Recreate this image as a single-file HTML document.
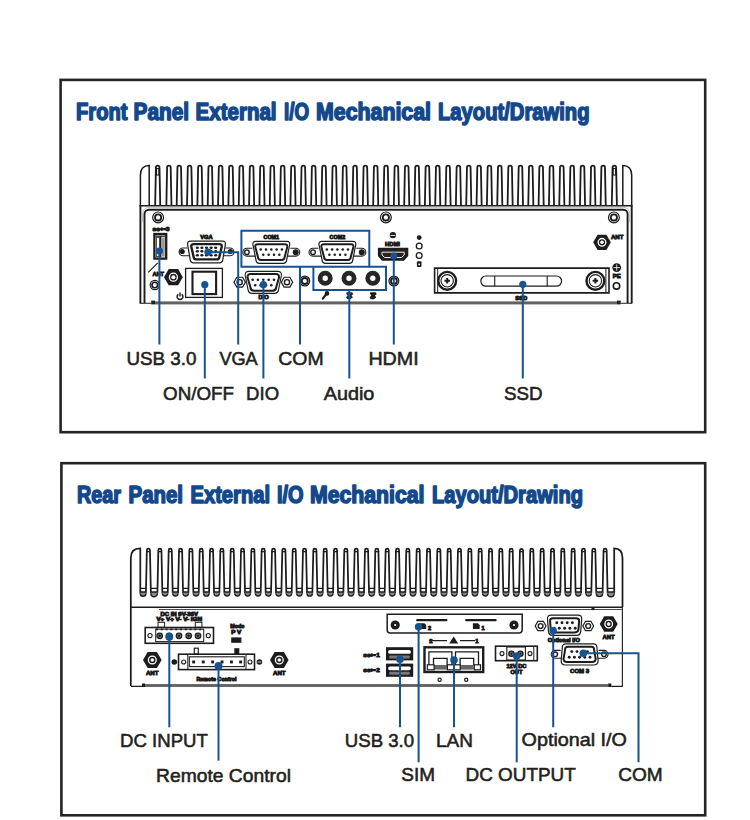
<!DOCTYPE html>
<html><head><meta charset="utf-8"><style>
html,body{margin:0;padding:0;background:#fff;width:750px;height:820px;overflow:hidden}
svg{display:block}
</style></head><body>
<svg width="750" height="820" viewBox="0 0 750 820">
<rect x="60.6" y="79.9" width="644.6" height="352.3" fill="none" stroke="#242424" stroke-width="2.6"/>
<rect x="61.4" y="463.2" width="643.8" height="352.1" fill="none" stroke="#242424" stroke-width="2.6"/>
<text x="76.00" y="120.1" font-family="Liberation Sans, sans-serif" font-weight="bold" font-size="23.4" fill="#13498c" stroke="#13498c" stroke-width="1.55" stroke-linejoin="round" textLength="51.52" lengthAdjust="spacingAndGlyphs">Front</text>
<text x="133.50" y="120.1" font-family="Liberation Sans, sans-serif" font-weight="bold" font-size="23.4" fill="#13498c" stroke="#13498c" stroke-width="1.55" stroke-linejoin="round" textLength="55.54" lengthAdjust="spacingAndGlyphs">Panel</text>
<text x="195.50" y="120.1" font-family="Liberation Sans, sans-serif" font-weight="bold" font-size="23.4" fill="#13498c" stroke="#13498c" stroke-width="1.55" stroke-linejoin="round" textLength="81.08" lengthAdjust="spacingAndGlyphs">External</text>
<text x="284.00" y="120.1" font-family="Liberation Sans, sans-serif" font-weight="bold" font-size="23.4" fill="#13498c" stroke="#13498c" stroke-width="1.55" stroke-linejoin="round" textLength="25.06" lengthAdjust="spacingAndGlyphs">I/O</text>
<text x="316.00" y="120.1" font-family="Liberation Sans, sans-serif" font-weight="bold" font-size="23.4" fill="#13498c" stroke="#13498c" stroke-width="1.55" stroke-linejoin="round" textLength="115.03" lengthAdjust="spacingAndGlyphs">Mechanical</text>
<text x="438.00" y="120.1" font-family="Liberation Sans, sans-serif" font-weight="bold" font-size="23.4" fill="#13498c" stroke="#13498c" stroke-width="1.55" stroke-linejoin="round" textLength="151.51" lengthAdjust="spacingAndGlyphs">Layout/Drawing</text>
<text x="77.00" y="503.2" font-family="Liberation Sans, sans-serif" font-weight="bold" font-size="23.0" fill="#13498c" stroke="#13498c" stroke-width="1.55" stroke-linejoin="round" textLength="44.01" lengthAdjust="spacingAndGlyphs">Rear</text>
<text x="128.50" y="503.2" font-family="Liberation Sans, sans-serif" font-weight="bold" font-size="23.0" fill="#13498c" stroke="#13498c" stroke-width="1.55" stroke-linejoin="round" textLength="54.54" lengthAdjust="spacingAndGlyphs">Panel</text>
<text x="190.50" y="503.2" font-family="Liberation Sans, sans-serif" font-weight="bold" font-size="23.0" fill="#13498c" stroke="#13498c" stroke-width="1.55" stroke-linejoin="round" textLength="79.51" lengthAdjust="spacingAndGlyphs">External</text>
<text x="277.00" y="503.2" font-family="Liberation Sans, sans-serif" font-weight="bold" font-size="23.0" fill="#13498c" stroke="#13498c" stroke-width="1.55" stroke-linejoin="round" textLength="26.59" lengthAdjust="spacingAndGlyphs">I/O</text>
<text x="310.00" y="503.2" font-family="Liberation Sans, sans-serif" font-weight="bold" font-size="23.0" fill="#13498c" stroke="#13498c" stroke-width="1.55" stroke-linejoin="round" textLength="114.52" lengthAdjust="spacingAndGlyphs">Mechanical</text>
<text x="432.00" y="503.2" font-family="Liberation Sans, sans-serif" font-weight="bold" font-size="23.0" fill="#13498c" stroke="#13498c" stroke-width="1.55" stroke-linejoin="round" textLength="151.01" lengthAdjust="spacingAndGlyphs">Layout/Drawing</text>
<text x="126.40" y="364.6" font-family="Liberation Sans, sans-serif" font-size="18.4" fill="#231f20" stroke="#231f20" stroke-width="0.55" textLength="70.12" lengthAdjust="spacingAndGlyphs">USB 3.0</text>
<text x="219.40" y="364.6" font-family="Liberation Sans, sans-serif" font-size="18.4" fill="#231f20" stroke="#231f20" stroke-width="0.55" textLength="38.27" lengthAdjust="spacingAndGlyphs">VGA</text>
<text x="278.30" y="364.6" font-family="Liberation Sans, sans-serif" font-size="18.4" fill="#231f20" stroke="#231f20" stroke-width="0.55" textLength="45.31" lengthAdjust="spacingAndGlyphs">COM</text>
<text x="368.40" y="364.7" font-family="Liberation Sans, sans-serif" font-size="18.4" fill="#231f20" stroke="#231f20" stroke-width="0.55" textLength="50.26" lengthAdjust="spacingAndGlyphs">HDMI</text>
<text x="163.10" y="399.5" font-family="Liberation Sans, sans-serif" font-size="18.4" fill="#231f20" stroke="#231f20" stroke-width="0.55" textLength="70.94" lengthAdjust="spacingAndGlyphs">ON/OFF</text>
<text x="246.10" y="399.5" font-family="Liberation Sans, sans-serif" font-size="18.4" fill="#231f20" stroke="#231f20" stroke-width="0.55" textLength="32.96" lengthAdjust="spacingAndGlyphs">DIO</text>
<text x="323.70" y="399.7" font-family="Liberation Sans, sans-serif" font-size="18.4" fill="#231f20" stroke="#231f20" stroke-width="0.55" textLength="50.71" lengthAdjust="spacingAndGlyphs">Audio</text>
<text x="504.00" y="399.6" font-family="Liberation Sans, sans-serif" font-size="18.4" fill="#231f20" stroke="#231f20" stroke-width="0.55" textLength="38.63" lengthAdjust="spacingAndGlyphs">SSD</text>
<text x="120.10" y="747.2" font-family="Liberation Sans, sans-serif" font-size="18.4" fill="#231f20" stroke="#231f20" stroke-width="0.55" textLength="87.80" lengthAdjust="spacingAndGlyphs">DC INPUT</text>
<text x="156.00" y="782.4" font-family="Liberation Sans, sans-serif" font-size="18.4" fill="#231f20" stroke="#231f20" stroke-width="0.55" textLength="135.01" lengthAdjust="spacingAndGlyphs">Remote Control</text>
<text x="344.80" y="746.8" font-family="Liberation Sans, sans-serif" font-size="18.4" fill="#231f20" stroke="#231f20" stroke-width="0.55" textLength="69.34" lengthAdjust="spacingAndGlyphs">USB 3.0</text>
<text x="436.00" y="746.8" font-family="Liberation Sans, sans-serif" font-size="18.4" fill="#231f20" stroke="#231f20" stroke-width="0.55" textLength="36.92" lengthAdjust="spacingAndGlyphs">LAN</text>
<text x="521.60" y="746.2" font-family="Liberation Sans, sans-serif" font-size="18.4" fill="#231f20" stroke="#231f20" stroke-width="0.55" textLength="105.29" lengthAdjust="spacingAndGlyphs">Optional I/O</text>
<text x="401.30" y="781" font-family="Liberation Sans, sans-serif" font-size="18.4" fill="#231f20" stroke="#231f20" stroke-width="0.55" textLength="33.74" lengthAdjust="spacingAndGlyphs">SIM</text>
<text x="465.60" y="781" font-family="Liberation Sans, sans-serif" font-size="18.4" fill="#231f20" stroke="#231f20" stroke-width="0.55" textLength="110.12" lengthAdjust="spacingAndGlyphs">DC OUTPUT</text>
<text x="618.20" y="781" font-family="Liberation Sans, sans-serif" font-size="18.4" fill="#231f20" stroke="#231f20" stroke-width="0.55" textLength="44.48" lengthAdjust="spacingAndGlyphs">COM</text>
<path d="M155.15,205.5L155.90,167.4A1.8,1.8 0 0 1 159.50,167.4L160.25,205.5M166.35,205.5L167.10,167.4A1.8,1.8 0 0 1 170.70,167.4L171.45,205.5M176.69,205.5L177.44,167.4A1.8,1.8 0 0 1 181.04,167.4L181.79,205.5M187.03,205.5L187.78,167.4A1.8,1.8 0 0 1 191.38,167.4L192.13,205.5M197.37,205.5L198.12,167.4A1.8,1.8 0 0 1 201.72,167.4L202.47,205.5M207.71,205.5L208.46,167.4A1.8,1.8 0 0 1 212.06,167.4L212.81,205.5M218.05,205.5L218.80,167.4A1.8,1.8 0 0 1 222.40,167.4L223.15,205.5M228.39,205.5L229.14,167.4A1.8,1.8 0 0 1 232.74,167.4L233.49,205.5M238.73,205.5L239.48,167.4A1.8,1.8 0 0 1 243.08,167.4L243.83,205.5M249.07,205.5L249.82,167.4A1.8,1.8 0 0 1 253.42,167.4L254.17,205.5M259.41,205.5L260.16,167.4A1.8,1.8 0 0 1 263.76,167.4L264.51,205.5M269.75,205.5L270.50,167.4A1.8,1.8 0 0 1 274.10,167.4L274.85,205.5M280.09,205.5L280.84,167.4A1.8,1.8 0 0 1 284.44,167.4L285.19,205.5M290.43,205.5L291.18,167.4A1.8,1.8 0 0 1 294.78,167.4L295.53,205.5M300.77,205.5L301.52,167.4A1.8,1.8 0 0 1 305.12,167.4L305.87,205.5M311.11,205.5L311.86,167.4A1.8,1.8 0 0 1 315.46,167.4L316.21,205.5M321.45,205.5L322.20,167.4A1.8,1.8 0 0 1 325.80,167.4L326.55,205.5M331.79,205.5L332.54,167.4A1.8,1.8 0 0 1 336.14,167.4L336.89,205.5M342.13,205.5L342.88,167.4A1.8,1.8 0 0 1 346.48,167.4L347.23,205.5M352.47,205.5L353.22,167.4A1.8,1.8 0 0 1 356.82,167.4L357.57,205.5M362.81,205.5L363.56,167.4A1.8,1.8 0 0 1 367.16,167.4L367.91,205.5M373.15,205.5L373.90,167.4A1.8,1.8 0 0 1 377.50,167.4L378.25,205.5M383.49,205.5L384.24,167.4A1.8,1.8 0 0 1 387.84,167.4L388.59,205.5M393.83,205.5L394.58,167.4A1.8,1.8 0 0 1 398.18,167.4L398.93,205.5M404.17,205.5L404.92,167.4A1.8,1.8 0 0 1 408.52,167.4L409.27,205.5M414.51,205.5L415.26,167.4A1.8,1.8 0 0 1 418.86,167.4L419.61,205.5M424.85,205.5L425.60,167.4A1.8,1.8 0 0 1 429.20,167.4L429.95,205.5M435.19,205.5L435.94,167.4A1.8,1.8 0 0 1 439.54,167.4L440.29,205.5M445.53,205.5L446.28,167.4A1.8,1.8 0 0 1 449.88,167.4L450.63,205.5M455.87,205.5L456.62,167.4A1.8,1.8 0 0 1 460.22,167.4L460.97,205.5M466.21,205.5L466.96,167.4A1.8,1.8 0 0 1 470.56,167.4L471.31,205.5M476.55,205.5L477.30,167.4A1.8,1.8 0 0 1 480.90,167.4L481.65,205.5M486.89,205.5L487.64,167.4A1.8,1.8 0 0 1 491.24,167.4L491.99,205.5M497.23,205.5L497.98,167.4A1.8,1.8 0 0 1 501.58,167.4L502.33,205.5M507.57,205.5L508.32,167.4A1.8,1.8 0 0 1 511.92,167.4L512.67,205.5M517.91,205.5L518.66,167.4A1.8,1.8 0 0 1 522.26,167.4L523.01,205.5M528.25,205.5L529.00,167.4A1.8,1.8 0 0 1 532.60,167.4L533.35,205.5M538.59,205.5L539.34,167.4A1.8,1.8 0 0 1 542.94,167.4L543.69,205.5M548.93,205.5L549.68,167.4A1.8,1.8 0 0 1 553.28,167.4L554.03,205.5M559.27,205.5L560.02,167.4A1.8,1.8 0 0 1 563.62,167.4L564.37,205.5M569.61,205.5L570.36,167.4A1.8,1.8 0 0 1 573.96,167.4L574.71,205.5M579.95,205.5L580.70,167.4A1.8,1.8 0 0 1 584.30,167.4L585.05,205.5M590.29,205.5L591.04,167.4A1.8,1.8 0 0 1 594.64,167.4L595.39,205.5M600.63,205.5L601.38,167.4A1.8,1.8 0 0 1 604.98,167.4L605.73,205.5M611.80,205.5L612.55,167.4A1.8,1.8 0 0 1 616.15,167.4L616.90,205.5" fill="none" stroke="#1c1c1c" stroke-width="1.8"/>
<rect x="156.50" y="168.6" width="2.4" height="6.4" fill="none" stroke="#1c1c1c" stroke-width="1.1"/>
<rect x="613.15" y="168.6" width="2.4" height="6.4" fill="none" stroke="#1c1c1c" stroke-width="1.1"/>
<path d="M140.4,205.5V175.5Q140.4,165.6 149.2,165.6V205.5" fill="none" stroke="#1c1c1c" stroke-width="1.5"/>
<path d="M631.7,205.5V175.5Q631.7,165.6 622.8,165.6V205.5" fill="none" stroke="#1c1c1c" stroke-width="1.5"/>
<path d="M140.4,205V303.3M631.7,205V303.3" stroke="#1c1c1c" stroke-width="1.9"/>
<path d="M139.5,205.7H632.3" stroke="#1c1c1c" stroke-width="1.5"/>
<path d="M142.7,222V213.4A6,6 0 0 1 148.7,207.4H623.7A6,6 0 0 1 629.7,213.4V222" fill="none" stroke="#b8b8b8" stroke-width="0.9"/>
<path d="M144.5,303V214A4.3,4.3 0 0 1 148.8,209.7H623.3A4.3,4.3 0 0 1 627.6,214V303" fill="none" stroke="#1c1c1c" stroke-width="1.9"/>
<rect x="155" y="301.4" width="462" height="3" fill="#626262"/>
<rect x="151.2" y="300.6" width="3.8" height="3.8" fill="#222"/><rect x="617" y="300.6" width="3.7" height="3.8" fill="#222"/>
<path d="M139.6,303.3H151.2M620.7,303.3H632.2" stroke="#1c1c1c" stroke-width="1.1"/>
<path d="M130.8,686V558Q130.8,548.4 140.3,548.4L140.3,593.5M145.90,593.5L146.85,550.2A1.55,1.55 0 0 1 149.95,550.2L150.90,593.5M157.40,593.5L158.35,550.2A1.55,1.55 0 0 1 161.45,550.2L162.40,593.5M167.73,593.5L168.68,550.2A1.55,1.55 0 0 1 171.78,550.2L172.73,593.5M178.06,593.5L179.01,550.2A1.55,1.55 0 0 1 182.11,550.2L183.06,593.5M188.39,593.5L189.34,550.2A1.55,1.55 0 0 1 192.44,550.2L193.39,593.5M198.72,593.5L199.67,550.2A1.55,1.55 0 0 1 202.77,550.2L203.72,593.5M209.06,593.5L210.00,550.2A1.55,1.55 0 0 1 213.11,550.2L214.06,593.5M219.39,593.5L220.34,550.2A1.55,1.55 0 0 1 223.44,550.2L224.39,593.5M229.72,593.5L230.67,550.2A1.55,1.55 0 0 1 233.77,550.2L234.72,593.5M240.05,593.5L241.00,550.2A1.55,1.55 0 0 1 244.10,550.2L245.05,593.5M250.38,593.5L251.33,550.2A1.55,1.55 0 0 1 254.43,550.2L255.38,593.5M260.71,593.5L261.66,550.2A1.55,1.55 0 0 1 264.76,550.2L265.71,593.5M271.04,593.5L271.99,550.2A1.55,1.55 0 0 1 275.09,550.2L276.04,593.5M281.37,593.5L282.32,550.2A1.55,1.55 0 0 1 285.42,550.2L286.37,593.5M291.70,593.5L292.65,550.2A1.55,1.55 0 0 1 295.75,550.2L296.70,593.5M302.03,593.5L302.98,550.2A1.55,1.55 0 0 1 306.08,550.2L307.03,593.5M312.37,593.5L313.31,550.2A1.55,1.55 0 0 1 316.42,550.2L317.37,593.5M322.70,593.5L323.65,550.2A1.55,1.55 0 0 1 326.75,550.2L327.70,593.5M333.03,593.5L333.98,550.2A1.55,1.55 0 0 1 337.08,550.2L338.03,593.5M343.36,593.5L344.31,550.2A1.55,1.55 0 0 1 347.41,550.2L348.36,593.5M353.69,593.5L354.64,550.2A1.55,1.55 0 0 1 357.74,550.2L358.69,593.5M364.02,593.5L364.97,550.2A1.55,1.55 0 0 1 368.07,550.2L369.02,593.5M374.35,593.5L375.30,550.2A1.55,1.55 0 0 1 378.40,550.2L379.35,593.5M384.68,593.5L385.63,550.2A1.55,1.55 0 0 1 388.73,550.2L389.68,593.5M395.01,593.5L395.96,550.2A1.55,1.55 0 0 1 399.06,550.2L400.01,593.5M405.34,593.5L406.29,550.2A1.55,1.55 0 0 1 409.39,550.2L410.34,593.5M415.67,593.5L416.62,550.2A1.55,1.55 0 0 1 419.72,550.2L420.67,593.5M426.01,593.5L426.96,550.2A1.55,1.55 0 0 1 430.06,550.2L431.01,593.5M436.34,593.5L437.29,550.2A1.55,1.55 0 0 1 440.39,550.2L441.34,593.5M446.67,593.5L447.62,550.2A1.55,1.55 0 0 1 450.72,550.2L451.67,593.5M457.00,593.5L457.95,550.2A1.55,1.55 0 0 1 461.05,550.2L462.00,593.5M467.33,593.5L468.28,550.2A1.55,1.55 0 0 1 471.38,550.2L472.33,593.5M477.66,593.5L478.61,550.2A1.55,1.55 0 0 1 481.71,550.2L482.66,593.5M487.99,593.5L488.94,550.2A1.55,1.55 0 0 1 492.04,550.2L492.99,593.5M498.32,593.5L499.27,550.2A1.55,1.55 0 0 1 502.37,550.2L503.32,593.5M508.65,593.5L509.60,550.2A1.55,1.55 0 0 1 512.70,550.2L513.65,593.5M518.99,593.5L519.94,550.2A1.55,1.55 0 0 1 523.03,550.2L523.99,593.5M529.32,593.5L530.27,550.2A1.55,1.55 0 0 1 533.37,550.2L534.32,593.5M539.65,593.5L540.60,550.2A1.55,1.55 0 0 1 543.70,550.2L544.65,593.5M549.98,593.5L550.93,550.2A1.55,1.55 0 0 1 554.03,550.2L554.98,593.5M560.31,593.5L561.26,550.2A1.55,1.55 0 0 1 564.36,550.2L565.31,593.5M570.64,593.5L571.59,550.2A1.55,1.55 0 0 1 574.69,550.2L575.64,593.5M580.97,593.5L581.92,550.2A1.55,1.55 0 0 1 585.02,550.2L585.97,593.5M591.30,593.5L592.25,550.2A1.55,1.55 0 0 1 595.35,550.2L596.30,593.5M602.60,593.5L603.55,550.2A1.55,1.55 0 0 1 606.65,550.2L607.60,593.5M614.2,593.5V548.4Q622.5,548.4 622.5,558V607" fill="none" stroke="#1c1c1c" stroke-width="1.75"/>
<path d="M140.30,592H145.90V593.5A2.80,2.80 0 0 1 140.30,593.5ZM150.90,592H157.40V593.5A3.25,3.25 0 0 1 150.90,593.5ZM162.40,592H167.73V593.5A2.67,2.67 0 0 1 162.40,593.5ZM172.73,592H178.06V593.5A2.67,2.67 0 0 1 172.73,593.5ZM183.06,592H188.39V593.5A2.67,2.67 0 0 1 183.06,593.5ZM193.39,592H198.72V593.5A2.67,2.67 0 0 1 193.39,593.5ZM203.72,592H209.06V593.5A2.67,2.67 0 0 1 203.72,593.5ZM214.06,592H219.39V593.5A2.67,2.67 0 0 1 214.06,593.5ZM224.39,592H229.72V593.5A2.67,2.67 0 0 1 224.39,593.5ZM234.72,592H240.05V593.5A2.67,2.67 0 0 1 234.72,593.5ZM245.05,592H250.38V593.5A2.67,2.67 0 0 1 245.05,593.5ZM255.38,592H260.71V593.5A2.67,2.67 0 0 1 255.38,593.5ZM265.71,592H271.04V593.5A2.67,2.67 0 0 1 265.71,593.5ZM276.04,592H281.37V593.5A2.67,2.67 0 0 1 276.04,593.5ZM286.37,592H291.70V593.5A2.67,2.67 0 0 1 286.37,593.5ZM296.70,592H302.03V593.5A2.67,2.67 0 0 1 296.70,593.5ZM307.03,592H312.37V593.5A2.67,2.67 0 0 1 307.03,593.5ZM317.37,592H322.70V593.5A2.67,2.67 0 0 1 317.37,593.5ZM327.70,592H333.03V593.5A2.67,2.67 0 0 1 327.70,593.5ZM338.03,592H343.36V593.5A2.67,2.67 0 0 1 338.03,593.5ZM348.36,592H353.69V593.5A2.67,2.67 0 0 1 348.36,593.5ZM358.69,592H364.02V593.5A2.67,2.67 0 0 1 358.69,593.5ZM369.02,592H374.35V593.5A2.67,2.67 0 0 1 369.02,593.5ZM379.35,592H384.68V593.5A2.67,2.67 0 0 1 379.35,593.5ZM389.68,592H395.01V593.5A2.67,2.67 0 0 1 389.68,593.5ZM400.01,592H405.34V593.5A2.67,2.67 0 0 1 400.01,593.5ZM410.34,592H415.67V593.5A2.67,2.67 0 0 1 410.34,593.5ZM420.67,592H426.01V593.5A2.67,2.67 0 0 1 420.67,593.5ZM431.01,592H436.34V593.5A2.67,2.67 0 0 1 431.01,593.5ZM441.34,592H446.67V593.5A2.67,2.67 0 0 1 441.34,593.5ZM451.67,592H457.00V593.5A2.67,2.67 0 0 1 451.67,593.5ZM462.00,592H467.33V593.5A2.67,2.67 0 0 1 462.00,593.5ZM472.33,592H477.66V593.5A2.67,2.67 0 0 1 472.33,593.5ZM482.66,592H487.99V593.5A2.67,2.67 0 0 1 482.66,593.5ZM492.99,592H498.32V593.5A2.67,2.67 0 0 1 492.99,593.5ZM503.32,592H508.65V593.5A2.67,2.67 0 0 1 503.32,593.5ZM513.65,592H518.99V593.5A2.67,2.67 0 0 1 513.65,593.5ZM523.99,592H529.32V593.5A2.67,2.67 0 0 1 523.99,593.5ZM534.32,592H539.65V593.5A2.67,2.67 0 0 1 534.32,593.5ZM544.65,592H549.98V593.5A2.67,2.67 0 0 1 544.65,593.5ZM554.98,592H560.31V593.5A2.67,2.67 0 0 1 554.98,593.5ZM565.31,592H570.64V593.5A2.67,2.67 0 0 1 565.31,593.5ZM575.64,592H580.97V593.5A2.67,2.67 0 0 1 575.64,593.5ZM585.97,592H591.30V593.5A2.67,2.67 0 0 1 585.97,593.5ZM596.30,592H602.60V593.5A3.15,3.15 0 0 1 596.30,593.5ZM607.60,592H614.20V593.5A3.30,3.30 0 0 1 607.60,593.5Z" fill="#8a8a8a"/>
<path d="M140.30,593.5A2.80,2.80 0 0 0 145.90,593.5M140.30,588.4H145.90M140.30,592H145.90M150.90,593.5A3.25,3.25 0 0 0 157.40,593.5M150.90,588.4H157.40M150.90,592H157.40M162.40,593.5A2.67,2.67 0 0 0 167.73,593.5M162.40,588.4H167.73M162.40,592H167.73M172.73,593.5A2.67,2.67 0 0 0 178.06,593.5M172.73,588.4H178.06M172.73,592H178.06M183.06,593.5A2.67,2.67 0 0 0 188.39,593.5M183.06,588.4H188.39M183.06,592H188.39M193.39,593.5A2.67,2.67 0 0 0 198.72,593.5M193.39,588.4H198.72M193.39,592H198.72M203.72,593.5A2.67,2.67 0 0 0 209.06,593.5M203.72,588.4H209.06M203.72,592H209.06M214.06,593.5A2.67,2.67 0 0 0 219.39,593.5M214.06,588.4H219.39M214.06,592H219.39M224.39,593.5A2.67,2.67 0 0 0 229.72,593.5M224.39,588.4H229.72M224.39,592H229.72M234.72,593.5A2.67,2.67 0 0 0 240.05,593.5M234.72,588.4H240.05M234.72,592H240.05M245.05,593.5A2.67,2.67 0 0 0 250.38,593.5M245.05,588.4H250.38M245.05,592H250.38M255.38,593.5A2.67,2.67 0 0 0 260.71,593.5M255.38,588.4H260.71M255.38,592H260.71M265.71,593.5A2.67,2.67 0 0 0 271.04,593.5M265.71,588.4H271.04M265.71,592H271.04M276.04,593.5A2.67,2.67 0 0 0 281.37,593.5M276.04,588.4H281.37M276.04,592H281.37M286.37,593.5A2.67,2.67 0 0 0 291.70,593.5M286.37,588.4H291.70M286.37,592H291.70M296.70,593.5A2.67,2.67 0 0 0 302.03,593.5M296.70,588.4H302.03M296.70,592H302.03M307.03,593.5A2.67,2.67 0 0 0 312.37,593.5M307.03,588.4H312.37M307.03,592H312.37M317.37,593.5A2.67,2.67 0 0 0 322.70,593.5M317.37,588.4H322.70M317.37,592H322.70M327.70,593.5A2.67,2.67 0 0 0 333.03,593.5M327.70,588.4H333.03M327.70,592H333.03M338.03,593.5A2.67,2.67 0 0 0 343.36,593.5M338.03,588.4H343.36M338.03,592H343.36M348.36,593.5A2.67,2.67 0 0 0 353.69,593.5M348.36,588.4H353.69M348.36,592H353.69M358.69,593.5A2.67,2.67 0 0 0 364.02,593.5M358.69,588.4H364.02M358.69,592H364.02M369.02,593.5A2.67,2.67 0 0 0 374.35,593.5M369.02,588.4H374.35M369.02,592H374.35M379.35,593.5A2.67,2.67 0 0 0 384.68,593.5M379.35,588.4H384.68M379.35,592H384.68M389.68,593.5A2.67,2.67 0 0 0 395.01,593.5M389.68,588.4H395.01M389.68,592H395.01M400.01,593.5A2.67,2.67 0 0 0 405.34,593.5M400.01,588.4H405.34M400.01,592H405.34M410.34,593.5A2.67,2.67 0 0 0 415.67,593.5M410.34,588.4H415.67M410.34,592H415.67M420.67,593.5A2.67,2.67 0 0 0 426.01,593.5M420.67,588.4H426.01M420.67,592H426.01M431.01,593.5A2.67,2.67 0 0 0 436.34,593.5M431.01,588.4H436.34M431.01,592H436.34M441.34,593.5A2.67,2.67 0 0 0 446.67,593.5M441.34,588.4H446.67M441.34,592H446.67M451.67,593.5A2.67,2.67 0 0 0 457.00,593.5M451.67,588.4H457.00M451.67,592H457.00M462.00,593.5A2.67,2.67 0 0 0 467.33,593.5M462.00,588.4H467.33M462.00,592H467.33M472.33,593.5A2.67,2.67 0 0 0 477.66,593.5M472.33,588.4H477.66M472.33,592H477.66M482.66,593.5A2.67,2.67 0 0 0 487.99,593.5M482.66,588.4H487.99M482.66,592H487.99M492.99,593.5A2.67,2.67 0 0 0 498.32,593.5M492.99,588.4H498.32M492.99,592H498.32M503.32,593.5A2.67,2.67 0 0 0 508.65,593.5M503.32,588.4H508.65M503.32,592H508.65M513.65,593.5A2.67,2.67 0 0 0 518.99,593.5M513.65,588.4H518.99M513.65,592H518.99M523.99,593.5A2.67,2.67 0 0 0 529.32,593.5M523.99,588.4H529.32M523.99,592H529.32M534.32,593.5A2.67,2.67 0 0 0 539.65,593.5M534.32,588.4H539.65M534.32,592H539.65M544.65,593.5A2.67,2.67 0 0 0 549.98,593.5M544.65,588.4H549.98M544.65,592H549.98M554.98,593.5A2.67,2.67 0 0 0 560.31,593.5M554.98,588.4H560.31M554.98,592H560.31M565.31,593.5A2.67,2.67 0 0 0 570.64,593.5M565.31,588.4H570.64M565.31,592H570.64M575.64,593.5A2.67,2.67 0 0 0 580.97,593.5M575.64,588.4H580.97M575.64,592H580.97M585.97,593.5A2.67,2.67 0 0 0 591.30,593.5M585.97,588.4H591.30M585.97,592H591.30M596.30,593.5A3.15,3.15 0 0 0 602.60,593.5M596.30,588.4H602.60M596.30,592H602.60M607.60,593.5A3.30,3.30 0 0 0 614.20,593.5M607.60,588.4H614.20M607.60,592H614.20" fill="none" stroke="#1c1c1c" stroke-width="1.4"/>
<path d="M146.85,551.6H149.95M158.35,551.6H161.45M168.68,551.6H171.78M179.01,551.6H182.11M189.34,551.6H192.44M199.67,551.6H202.77M210.00,551.6H213.11M220.34,551.6H223.44M230.67,551.6H233.77M241.00,551.6H244.10M251.33,551.6H254.43M261.66,551.6H264.76M271.99,551.6H275.09M282.32,551.6H285.42M292.65,551.6H295.75M302.98,551.6H306.08M313.31,551.6H316.42M323.65,551.6H326.75M333.98,551.6H337.08M344.31,551.6H347.41M354.64,551.6H357.74M364.97,551.6H368.07M375.30,551.6H378.40M385.63,551.6H388.73M395.96,551.6H399.06M406.29,551.6H409.39M416.62,551.6H419.72M426.96,551.6H430.06M437.29,551.6H440.39M447.62,551.6H450.72M457.95,551.6H461.05M468.28,551.6H471.38M478.61,551.6H481.71M488.94,551.6H492.04M499.27,551.6H502.37M509.60,551.6H512.70M519.94,551.6H523.03M530.27,551.6H533.37M540.60,551.6H543.70M550.93,551.6H554.03M561.26,551.6H564.36M571.59,551.6H574.69M581.92,551.6H585.02M592.25,551.6H595.35M603.55,551.6H606.65" fill="none" stroke="#1c1c1c" stroke-width="1.1"/>
<path d="M622.4,607V686.8" stroke="#2a2a2a" stroke-width="1.2"/>
<path d="M130,607.2H622.3" stroke="#1c1c1c" stroke-width="1.6"/>
<path d="M159,609.5H621.8" stroke="#333" stroke-width="0.9"/>
<rect x="591.5" y="607.5" width="3" height="2.6" fill="#1c1c1c"/>
<rect x="145" y="684" width="463.2" height="3" fill="#666"/>
<rect x="142" y="683.5" width="3" height="3.5" fill="#1c1c1c"/><rect x="608.2" y="683.5" width="3.2" height="3.5" fill="#1c1c1c"/>
<path d="M130.8,686.4H142M611.4,686.4H622.5" stroke="#1c1c1c" stroke-width="1.1"/>
<circle cx="158.1" cy="217.4" r="5.4" fill="none" stroke="#1c1c1c" stroke-width="1.2"/>
<circle cx="158.1" cy="217.4" r="3.1" fill="none" stroke="#1c1c1c" stroke-width="1.8"/>
<circle cx="613.9" cy="217.4" r="5.4" fill="none" stroke="#1c1c1c" stroke-width="1.2"/>
<circle cx="613.9" cy="217.4" r="3.1" fill="none" stroke="#1c1c1c" stroke-width="1.8"/>
<circle cx="385.9" cy="217.4" r="5.4" fill="none" stroke="#1c1c1c" stroke-width="1.2"/>
<circle cx="385.9" cy="217.4" r="3.1" fill="none" stroke="#1c1c1c" stroke-width="1.8"/>
<rect x="154.4" y="234.0" width="11.8" height="24.6" fill="#fff" stroke="#1c1c1c" stroke-width="2.3"/>
<path d="M155.5,236.2H165.2" stroke="#1c1c1c" stroke-width="1.2"/>
<rect x="156.4" y="237.4" width="3.2" height="19.2" fill="none" stroke="#444" stroke-width="1"/>
<rect x="159.8" y="236.2" width="1.6" height="21" fill="#1c1c1c"/>
<rect x="161.6" y="237.4" width="3.2" height="19.2" fill="#999"/>
<text x="161" y="231.4" font-family="Liberation Sans, sans-serif" font-weight="bold" font-size="5.6" fill="#1c1c1c" stroke="#1c1c1c" stroke-width="0.9" text-anchor="middle" textLength="17" lengthAdjust="spacingAndGlyphs">ss&#8656;3</text>
<path d="M187.50,248.00H183.00A3.9,3.9 0 0 0 183.00,255.80H190.50M225.50,248.00H230.00A3.9,3.9 0 0 1 230.00,255.80H222.50" fill="none" stroke="#1c1c1c" stroke-width="1.1"/>
<circle cx="182.20" cy="251.50" r="2.6" fill="#1c1c1c"/>
<circle cx="230.40" cy="251.50" r="2.6" fill="#1c1c1c"/>
<path d="M190.50,241.10H222.50Q225.70,241.10 225.40,244.30L222.80,259.60Q222.50,262.80 219.30,262.80H193.70Q190.50,262.80 190.20,259.60L187.60,244.30Q187.30,241.10 190.50,241.10Z" fill="#fff" stroke="#1c1c1c" stroke-width="1.2"/>
<path d="M193.60,244.10H219.40Q222.00,244.10 221.70,246.70L219.40,256.80Q219.10,259.40 216.50,259.40H196.50Q193.90,259.40 193.60,256.80L191.30,246.70Q191.00,244.10 193.60,244.10Z" fill="#fff" stroke="#1c1c1c" stroke-width="2.4"/>
<ellipse cx="197.30" cy="247.70" rx="1.6" ry="1.3" fill="#1c1c1c"/>
<ellipse cx="201.90" cy="247.70" rx="1.6" ry="1.3" fill="#1c1c1c"/>
<ellipse cx="206.50" cy="247.70" rx="1.6" ry="1.3" fill="#1c1c1c"/>
<ellipse cx="211.10" cy="247.70" rx="1.6" ry="1.3" fill="#1c1c1c"/>
<ellipse cx="215.70" cy="247.70" rx="1.6" ry="1.3" fill="#1c1c1c"/>
<ellipse cx="197.30" cy="251.30" rx="1.6" ry="1.3" fill="#1c1c1c"/>
<ellipse cx="201.90" cy="251.30" rx="1.6" ry="1.3" fill="#1c1c1c"/>
<ellipse cx="206.50" cy="251.30" rx="1.6" ry="1.3" fill="#1c1c1c"/>
<ellipse cx="211.10" cy="251.30" rx="1.6" ry="1.3" fill="#1c1c1c"/>
<ellipse cx="215.70" cy="251.30" rx="1.6" ry="1.3" fill="#1c1c1c"/>
<ellipse cx="197.30" cy="255.20" rx="1.6" ry="1.3" fill="#1c1c1c"/>
<ellipse cx="201.90" cy="255.20" rx="1.6" ry="1.3" fill="#1c1c1c"/>
<ellipse cx="206.50" cy="255.20" rx="1.6" ry="1.3" fill="#1c1c1c"/>
<ellipse cx="211.10" cy="255.20" rx="1.6" ry="1.3" fill="#1c1c1c"/>
<ellipse cx="215.70" cy="255.20" rx="1.6" ry="1.3" fill="#1c1c1c"/>
<text x="206.5" y="238.6" font-family="Liberation Sans, sans-serif" font-weight="bold" font-size="5.6" fill="#1c1c1c" stroke="#1c1c1c" stroke-width="0.9" text-anchor="middle" textLength="12.4" lengthAdjust="spacingAndGlyphs">VGA</text>
<path d="M252.30,248.30H246.80A3.9,3.9 0 0 0 246.80,256.10H255.30M290.30,248.30H295.80A3.9,3.9 0 0 1 295.80,256.10H287.30" fill="none" stroke="#1c1c1c" stroke-width="1.1"/>
<circle cx="246.90" cy="252.20" r="2.3" fill="none" stroke="#1c1c1c" stroke-width="1.4"/>
<circle cx="295.70" cy="252.20" r="2.3" fill="#1c1c1c" stroke="#1c1c1c" stroke-width="1.4"/>
<path d="M255.80,241.30H286.80Q290.00,241.30 289.70,244.50L286.60,260.10Q286.30,263.30 283.10,263.30H259.50Q256.30,263.30 256.00,260.10L252.90,244.50Q252.60,241.30 255.80,241.30Z" fill="#fff" stroke="#1c1c1c" stroke-width="1.2"/>
<path d="M257.60,244.30H285.00Q287.60,244.30 287.30,246.90L284.60,257.30Q284.30,259.90 281.70,259.90H260.90Q258.30,259.90 258.00,257.30L255.30,246.90Q255.00,244.30 257.60,244.30Z" fill="#fff" stroke="#1c1c1c" stroke-width="2.0"/>
<circle cx="260.70" cy="249.60" r="1.25" fill="#1c1c1c"/>
<circle cx="266.00" cy="249.60" r="1.25" fill="#1c1c1c"/>
<circle cx="271.30" cy="249.60" r="1.25" fill="#1c1c1c"/>
<circle cx="276.60" cy="249.60" r="1.25" fill="#1c1c1c"/>
<circle cx="281.90" cy="249.60" r="1.25" fill="#1c1c1c"/>
<circle cx="263.28" cy="254.80" r="1.25" fill="#1c1c1c"/>
<circle cx="268.63" cy="254.80" r="1.25" fill="#1c1c1c"/>
<circle cx="273.98" cy="254.80" r="1.25" fill="#1c1c1c"/>
<circle cx="279.33" cy="254.80" r="1.25" fill="#1c1c1c"/>
<text x="271.3" y="238.70000000000002" font-family="Liberation Sans, sans-serif" font-weight="bold" font-size="5.4" fill="#1c1c1c" stroke="#1c1c1c" stroke-width="0.9" text-anchor="middle">COM1</text>
<path d="M318.40,248.30H312.90A3.9,3.9 0 0 0 312.90,256.10H321.40M356.40,248.30H361.90A3.9,3.9 0 0 1 361.90,256.10H353.40" fill="none" stroke="#1c1c1c" stroke-width="1.1"/>
<circle cx="313.00" cy="252.20" r="2.3" fill="none" stroke="#1c1c1c" stroke-width="1.4"/>
<circle cx="361.80" cy="252.20" r="2.3" fill="#1c1c1c" stroke="#1c1c1c" stroke-width="1.4"/>
<path d="M321.90,241.30H352.90Q356.10,241.30 355.80,244.50L352.70,260.10Q352.40,263.30 349.20,263.30H325.60Q322.40,263.30 322.10,260.10L319.00,244.50Q318.70,241.30 321.90,241.30Z" fill="#fff" stroke="#1c1c1c" stroke-width="1.2"/>
<path d="M323.70,244.30H351.10Q353.70,244.30 353.40,246.90L350.70,257.30Q350.40,259.90 347.80,259.90H327.00Q324.40,259.90 324.10,257.30L321.40,246.90Q321.10,244.30 323.70,244.30Z" fill="#fff" stroke="#1c1c1c" stroke-width="2.0"/>
<circle cx="326.80" cy="249.60" r="1.25" fill="#1c1c1c"/>
<circle cx="332.10" cy="249.60" r="1.25" fill="#1c1c1c"/>
<circle cx="337.40" cy="249.60" r="1.25" fill="#1c1c1c"/>
<circle cx="342.70" cy="249.60" r="1.25" fill="#1c1c1c"/>
<circle cx="348.00" cy="249.60" r="1.25" fill="#1c1c1c"/>
<circle cx="329.38" cy="254.80" r="1.25" fill="#1c1c1c"/>
<circle cx="334.73" cy="254.80" r="1.25" fill="#1c1c1c"/>
<circle cx="340.07" cy="254.80" r="1.25" fill="#1c1c1c"/>
<circle cx="345.43" cy="254.80" r="1.25" fill="#1c1c1c"/>
<text x="337.4" y="238.70000000000002" font-family="Liberation Sans, sans-serif" font-weight="bold" font-size="5.4" fill="#1c1c1c" stroke="#1c1c1c" stroke-width="0.9" text-anchor="middle">COM2</text>
<path d="M248.90,271.40H277.70Q281.70,271.40 281.40,275.40L278.60,289.40Q278.30,293.40 274.30,293.40H252.30Q248.30,293.40 248.00,289.40L245.20,275.40Q244.90,271.40 248.90,271.40Z" fill="#fff" stroke="#1c1c1c" stroke-width="1.1"/>
<path d="M250.70,274.10H275.90Q279.30,274.10 279.00,277.50L276.20,287.30Q275.90,290.70 272.50,290.70H254.10Q250.70,290.70 250.40,287.30L247.60,277.50Q247.30,274.10 250.70,274.10Z" fill="#fff" stroke="#1c1c1c" stroke-width="2.0"/>
<circle cx="252.60" cy="279.70" r="1.3" fill="#1c1c1c"/>
<circle cx="257.95" cy="279.70" r="1.3" fill="#1c1c1c"/>
<circle cx="263.30" cy="279.70" r="1.3" fill="#1c1c1c"/>
<circle cx="268.65" cy="279.70" r="1.3" fill="#1c1c1c"/>
<circle cx="274.00" cy="279.70" r="1.3" fill="#1c1c1c"/>
<circle cx="255.28" cy="285.20" r="1.3" fill="#1c1c1c"/>
<circle cx="260.62" cy="285.20" r="1.3" fill="#1c1c1c"/>
<circle cx="265.98" cy="285.20" r="1.3" fill="#1c1c1c"/>
<circle cx="271.32" cy="285.20" r="1.3" fill="#1c1c1c"/>
<polygon points="245.40,282.20 242.55,287.14 236.85,287.14 234.00,282.20 236.85,277.26 242.55,277.26" fill="none" stroke="#1c1c1c" stroke-width="1.2"/>
<circle cx="239.7" cy="282.2" r="2.6" fill="none" stroke="#1c1c1c" stroke-width="1.4"/>
<polygon points="292.70,282.20 289.85,287.14 284.15,287.14 281.30,282.20 284.15,277.26 289.85,277.26" fill="none" stroke="#1c1c1c" stroke-width="1.2"/>
<circle cx="287.0" cy="282.2" r="2.6" fill="none" stroke="#1c1c1c" stroke-width="1.4"/>
<text x="263.6" y="299.4" font-family="Liberation Sans, sans-serif" font-weight="bold" font-size="5.4" fill="#1c1c1c" stroke="#1c1c1c" stroke-width="0.9" text-anchor="middle" textLength="10.2" lengthAdjust="spacingAndGlyphs">DIO</text>
<rect x="185.6" y="268.4" width="36.8" height="29" fill="none" stroke="#1c1c1c" stroke-width="1.3"/>
<rect x="192.5" y="271.7" width="23.6" height="22.4" fill="none" stroke="#1c1c1c" stroke-width="2.1"/>
<path d="M178.3,294.3A2.9,2.9 0 1 0 181.7,294.3" fill="none" stroke="#1c1c1c" stroke-width="1.5"/><path d="M180,292.4V296.4" stroke="#1c1c1c" stroke-width="1.4"/>
<polygon points="182.80,277.20 178.10,285.34 168.70,285.34 164.00,277.20 168.70,269.06 178.10,269.06" fill="#1c1c1c"/>
<circle cx="173.4" cy="277.2" r="4.0" fill="none" stroke="#fff" stroke-width="1.3"/>
<circle cx="173.4" cy="277.2" r="2.0" fill="#fff"/>
<path d="M148.2,272.4L157.8,262.8" stroke="#1c1c1c" stroke-width="1.2"/>
<text x="158.2" y="276.3" font-family="Liberation Sans, sans-serif" font-weight="bold" font-size="6.2" fill="#1c1c1c" stroke="#1c1c1c" stroke-width="0.9" text-anchor="middle" textLength="11.6" lengthAdjust="spacingAndGlyphs">ANT</text>
<circle cx="154.8" cy="285" r="4.6" fill="none" stroke="#1c1c1c" stroke-width="1.2"/>
<circle cx="154.8" cy="285" r="2.8" fill="none" stroke="#1c1c1c" stroke-width="1.6"/>
<circle cx="325.2" cy="278.3" r="5.1" fill="none" stroke="#262626" stroke-width="4.8"/>
<circle cx="349.0" cy="278.3" r="5.1" fill="none" stroke="#262626" stroke-width="4.8"/>
<circle cx="372.8" cy="278.3" r="5.1" fill="none" stroke="#262626" stroke-width="4.8"/>
<circle cx="327" cy="293.4" r="2.3" fill="#1c1c1c"/><path d="M326,294.5L322.8,298.6" stroke="#1c1c1c" stroke-width="2.2" stroke-linecap="round"/>
<path d="M346.6,292.2H352.2L353.4,294.2L351.6,295.2L352.8,297.6L350.6,299H347.2L346,297.2L347.6,295.4L346.2,293.8Z" fill="#1e2a44"/>
<path d="M370.2,292.2H375.6L376.8,294L375,295.4L376.2,297.6L374,299.2H370.8L369.6,297.6L371.4,295.6L370,293.8Z" fill="#1c1c1c"/>
<circle cx="304.8" cy="281.0" r="4.9" fill="none" stroke="#1c1c1c" stroke-width="1.2"/>
<circle cx="304.8" cy="281.0" r="3.0" fill="none" stroke="#1c1c1c" stroke-width="1.8"/>
<circle cx="393.9" cy="281.0" r="4.9" fill="none" stroke="#1c1c1c" stroke-width="1.2"/>
<circle cx="393.9" cy="281.0" r="3.0" fill="none" stroke="#1c1c1c" stroke-width="1.8"/>
<path d="M378.8,248.6H407.4V255.6L403.6,259.8H382.4L378.8,255.6Z" fill="#2b2220" stroke="#1c1c1c" stroke-width="1.8"/>
<path d="M382,252.2H404.2V255L401.5,257.5H384.6L382,255Z" fill="none" stroke="#fff" stroke-width="0.9"/>
<text x="392.5" y="246.4" font-family="Liberation Sans, sans-serif" font-weight="bold" font-size="5.6" fill="#1c1c1c" stroke="#1c1c1c" stroke-width="0.9" text-anchor="middle" textLength="14.8" lengthAdjust="spacingAndGlyphs">HDMI</text>
<circle cx="392.9" cy="235.1" r="3.2" fill="#1c1c1c"/><path d="M390.4,235.4H395.4" stroke="#fff" stroke-width="0.9"/>
<circle cx="419.2" cy="237.6" r="2.4" fill="#1c1c1c"/>
<circle cx="419.2" cy="246.0" r="2.9" fill="none" stroke="#1c1c1c" stroke-width="1.3"/>
<circle cx="419.2" cy="255.5" r="2.9" fill="none" stroke="#1c1c1c" stroke-width="1.3"/>
<rect x="416.9" y="261.3" width="4.6" height="5.8" rx="1" fill="#1c1c1c"/><rect x="418.4" y="263.6" width="1.6" height="1.6" fill="#fff"/>
<path d="M609,268.1H434.6V292.9H609Z" fill="none" stroke="#1c1c1c" stroke-width="1.6"/>
<path d="M437.7,268.8V292.2M605.9,268.8V292.2" stroke="#1c1c1c" stroke-width="1"/>
<circle cx="447.2" cy="280.8" r="8.9" fill="none" stroke="#1c1c1c" stroke-width="2.4"/>
<circle cx="447.2" cy="280.8" r="6.2" fill="none" stroke="#1c1c1c" stroke-width="1.1"/>
<path d="M444.4,280.8H450.0M447.2,278V283.6" stroke="#1c1c1c" stroke-width="2.1"/>
<circle cx="595.4" cy="280.8" r="8.9" fill="none" stroke="#1c1c1c" stroke-width="2.4"/>
<circle cx="595.4" cy="280.8" r="6.2" fill="none" stroke="#1c1c1c" stroke-width="1.1"/>
<path d="M592.6,280.8H598.1999999999999M595.4,278V283.6" stroke="#1c1c1c" stroke-width="2.1"/>
<rect x="480.8" y="276.0" width="80.8" height="10.2" rx="5.1" fill="none" stroke="#1c1c1c" stroke-width="1.2"/>
<path d="M494.7,276V286.2M547.2,276V286.2" stroke="#1c1c1c" stroke-width="1.1"/>
<text x="521.2" y="299.6" font-family="Liberation Sans, sans-serif" font-weight="bold" font-size="5.6" fill="#1c1c1c" stroke="#1c1c1c" stroke-width="0.9" text-anchor="middle" textLength="12" lengthAdjust="spacingAndGlyphs">SSD</text>
<polygon points="610.80,242.30 606.40,249.92 597.60,249.92 593.20,242.30 597.60,234.68 606.40,234.68" fill="#1c1c1c"/>
<circle cx="602.0" cy="242.3" r="3.8" fill="none" stroke="#fff" stroke-width="1.3"/>
<circle cx="602.0" cy="242.3" r="1.8" fill="#fff"/>
<text x="617.2" y="239.4" font-family="Liberation Sans, sans-serif" font-weight="bold" font-size="6.0" fill="#1c1c1c" stroke="#1c1c1c" stroke-width="0.9" text-anchor="middle" textLength="12.4" lengthAdjust="spacingAndGlyphs">ANT</text>
<circle cx="616.7" cy="267.6" r="4.4" fill="#1c1c1c"/><path d="M613.5,267.6H620M616.7,264.4V270.8" stroke="#fff" stroke-width="0.8"/>
<text x="616.8" y="278.2" font-family="Liberation Sans, sans-serif" font-weight="bold" font-size="5.6" fill="#1c1c1c" stroke="#1c1c1c" stroke-width="0.9" text-anchor="middle" textLength="8" lengthAdjust="spacingAndGlyphs">PE</text>
<circle cx="616.5" cy="285.9" r="3.2" fill="none" stroke="#1c1c1c" stroke-width="1.6"/>
<text x="179.2" y="616.1" font-family="Liberation Sans, sans-serif" font-weight="bold" font-size="5.2" fill="#1c1c1c" stroke="#1c1c1c" stroke-width="0.9" text-anchor="middle" textLength="37.5" lengthAdjust="spacingAndGlyphs">DC IN 9V-36V</text>
<text x="179.2" y="621.0" font-family="Liberation Sans, sans-serif" font-weight="bold" font-size="5.0" fill="#1c1c1c" stroke="#1c1c1c" stroke-width="0.9" text-anchor="middle" textLength="45.5" lengthAdjust="spacingAndGlyphs">V+ V+ V- V- IGN</text>
<rect x="158" y="622.3" width="6.6" height="5" fill="none" stroke="#1c1c1c" stroke-width="1"/>
<rect x="195.3" y="622.3" width="6.6" height="5" fill="none" stroke="#1c1c1c" stroke-width="1"/>
<rect x="145.2" y="627.5" width="68.3" height="15.8" fill="#fff" stroke="#1c1c1c" stroke-width="1.6"/>
<rect x="155.7" y="629.2" width="48" height="12.4" fill="none" stroke="#1c1c1c" stroke-width="1"/>
<path d="M156,629.4H203.5" stroke="#1c1c1c" stroke-width="1.6" stroke-dasharray="2,2.8"/>
<circle cx="159.7" cy="635.8" r="3.4" fill="#1c1c1c"/>
<circle cx="159.7" cy="635.8" r="1.7" fill="none" stroke="#888" stroke-width="0.8"/>
<circle cx="169.2" cy="635.8" r="3.4" fill="#1c1c1c"/>
<circle cx="169.2" cy="635.8" r="1.7" fill="none" stroke="#888" stroke-width="0.8"/>
<circle cx="179.0" cy="635.8" r="3.4" fill="#1c1c1c"/>
<circle cx="179.0" cy="635.8" r="1.7" fill="none" stroke="#888" stroke-width="0.8"/>
<circle cx="188.7" cy="635.8" r="3.4" fill="#1c1c1c"/>
<circle cx="188.7" cy="635.8" r="1.7" fill="none" stroke="#888" stroke-width="0.8"/>
<circle cx="198.0" cy="635.8" r="3.4" fill="#1c1c1c"/>
<circle cx="198.0" cy="635.8" r="1.7" fill="none" stroke="#888" stroke-width="0.8"/>
<circle cx="150.0" cy="635.6" r="2.1" fill="none" stroke="#1c1c1c" stroke-width="1.1"/>
<circle cx="208.3" cy="635.6" r="2.1" fill="none" stroke="#1c1c1c" stroke-width="1.1"/>
<polygon points="161.60,660.00 156.95,668.05 147.65,668.05 143.00,660.00 147.65,651.95 156.95,651.95" fill="#1c1c1c"/>
<circle cx="152.3" cy="660.0" r="3.9" fill="none" stroke="#fff" stroke-width="1.3"/>
<circle cx="152.3" cy="660.0" r="1.8" fill="#fff"/>
<text x="152.2" y="675.4" font-family="Liberation Sans, sans-serif" font-weight="bold" font-size="6.2" fill="#1c1c1c" stroke="#1c1c1c" stroke-width="0.9" text-anchor="middle" textLength="12.6" lengthAdjust="spacingAndGlyphs">ANT</text>
<polygon points="288.60,660.00 283.95,668.05 274.65,668.05 270.00,660.00 274.65,651.95 283.95,651.95" fill="#1c1c1c"/>
<circle cx="279.3" cy="660.0" r="3.9" fill="none" stroke="#fff" stroke-width="1.3"/>
<circle cx="279.3" cy="660.0" r="1.8" fill="#fff"/>
<text x="279.3" y="675.4" font-family="Liberation Sans, sans-serif" font-weight="bold" font-size="6.2" fill="#1c1c1c" stroke="#1c1c1c" stroke-width="0.9" text-anchor="middle" textLength="12.6" lengthAdjust="spacingAndGlyphs">ANT</text>
<polygon points="617.70,624.00 613.20,631.79 604.20,631.79 599.70,624.00 604.20,616.21 613.20,616.21" fill="#1c1c1c"/>
<circle cx="608.7" cy="624.0" r="3.8" fill="none" stroke="#fff" stroke-width="1.3"/>
<circle cx="608.7" cy="624.0" r="1.8" fill="#fff"/>
<text x="608.5" y="639.4" font-family="Liberation Sans, sans-serif" font-weight="bold" font-size="6.2" fill="#1c1c1c" stroke="#1c1c1c" stroke-width="0.9" text-anchor="middle" textLength="12.2" lengthAdjust="spacingAndGlyphs">ANT</text>
<circle cx="174.3" cy="662" r="2.8" fill="#1c1c1c"/>
<circle cx="259.4" cy="662" r="2.8" fill="#1c1c1c"/><path d="M257.6,662H261.2" stroke="#fff" stroke-width="0.8"/>
<rect x="194.3" y="648.2" width="4" height="5.8" fill="none" stroke="#1c1c1c" stroke-width="1.2"/>
<rect x="234.3" y="648.2" width="5" height="5.8" fill="#1c1c1c"/>
<rect x="178.5" y="654.2" width="76" height="15.4" fill="#fff" stroke="#1c1c1c" stroke-width="1.6"/>
<path d="M187.8,654.2V669.6M246,654.2V669.6" stroke="#1c1c1c" stroke-width="1"/>
<rect x="189.3" y="656.8" width="55" height="9.8" fill="none" stroke="#1c1c1c" stroke-width="1.1"/>
<rect x="192.2" y="660.5" width="2.9" height="2.9" fill="#1c1c1c"/>
<rect x="201.8" y="660.5" width="2.9" height="2.9" fill="#1c1c1c"/>
<rect x="211.2" y="660.5" width="2.9" height="2.9" fill="#1c1c1c"/>
<rect x="220.6" y="660.5" width="2.9" height="2.9" fill="#1c1c1c"/>
<rect x="230.0" y="660.5" width="2.9" height="2.9" fill="#1c1c1c"/>
<rect x="239.2" y="660.5" width="2.9" height="2.9" fill="#1c1c1c"/>
<circle cx="183.7" cy="662" r="2" fill="none" stroke="#1c1c1c" stroke-width="1.1"/>
<circle cx="250" cy="662" r="2" fill="none" stroke="#1c1c1c" stroke-width="1.1"/>
<text x="216.5" y="681.4" font-family="Liberation Sans, sans-serif" font-weight="bold" font-size="5.2" fill="#1c1c1c" stroke="#1c1c1c" stroke-width="0.9" text-anchor="middle" textLength="40" lengthAdjust="spacingAndGlyphs">Remote Control</text>
<text x="237.2" y="628.2" font-family="Liberation Sans, sans-serif" font-weight="bold" font-size="5.2" fill="#1c1c1c" stroke="#1c1c1c" stroke-width="0.9" text-anchor="middle" textLength="14" lengthAdjust="spacingAndGlyphs">Mode</text>
<text x="236.2" y="634.2" font-family="Liberation Sans, sans-serif" font-weight="bold" font-size="5.4" fill="#1c1c1c" stroke="#1c1c1c" stroke-width="0.9" text-anchor="middle" textLength="10" lengthAdjust="spacingAndGlyphs">P V</text>
<rect x="231.2" y="637.4" width="10.2" height="5.4" fill="#1c1c1c"/>
<path d="M387.2,614.2H522.2V630A3,3 0 0 1 519.2,633H390.2A3,3 0 0 1 387.2,630Z" fill="none" stroke="#1c1c1c" stroke-width="1.5"/>
<circle cx="395.2" cy="625" r="4.6" fill="#1c1c1c"/><circle cx="395.2" cy="625" r="1.1" fill="#fff"/>
<circle cx="514.0" cy="625" r="4.6" fill="#1c1c1c"/><circle cx="514.0" cy="625" r="1.1" fill="#fff"/>
<path d="M417.2,620.2H446.4M466.2,620.2H495.6" stroke="#1c1c1c" stroke-width="2.2" stroke-linecap="round"/>
<path d="M419.4,629V623.2H424.4L426.2,625V629Z" fill="#1c1c1c"/>
<text x="429.5" y="629.8" font-family="Liberation Sans, sans-serif" font-weight="bold" font-size="5.6" fill="#1c1c1c" stroke="#1c1c1c" stroke-width="0.9" text-anchor="middle">2</text>
<path d="M472.9,629V623.2H477.9L479.7,625V629Z" fill="#1c1c1c"/>
<text x="483.0" y="629.8" font-family="Liberation Sans, sans-serif" font-weight="bold" font-size="5.6" fill="#1c1c1c" stroke="#1c1c1c" stroke-width="0.9" text-anchor="middle">1</text>
<rect x="386" y="647.2" width="27.2" height="13.2" fill="#1c1c1c"/>
<rect x="388.2" y="650.0" width="22.6" height="3.8" rx="1.6" fill="#fff"/>
<rect x="389.2" y="655.4000000000001" width="20.6" height="3" rx="1" fill="#777"/>
<rect x="386" y="663.6" width="27.2" height="13.2" fill="#1c1c1c"/>
<rect x="388.2" y="666.4" width="22.6" height="3.8" rx="1.6" fill="#fff"/>
<rect x="389.2" y="671.8000000000001" width="20.6" height="3" rx="1" fill="#777"/>
<text x="371.6" y="656.6" font-family="Liberation Sans, sans-serif" font-weight="bold" font-size="5.6" fill="#1c1c1c" stroke="#1c1c1c" stroke-width="0.9" text-anchor="middle" textLength="16.6" lengthAdjust="spacingAndGlyphs">ss&#8656;1</text>
<text x="371.6" y="671.8" font-family="Liberation Sans, sans-serif" font-weight="bold" font-size="5.6" fill="#1c1c1c" stroke="#1c1c1c" stroke-width="0.9" text-anchor="middle" textLength="16.6" lengthAdjust="spacingAndGlyphs">ss&#8656;2</text>
<path d="M429,640.6H447M460,640.6H475" stroke="#1c1c1c" stroke-width="1.1"/>
<text x="430.8" y="643.2" font-family="Liberation Sans, sans-serif" font-weight="bold" font-size="6" fill="#1c1c1c" stroke="#1c1c1c" stroke-width="0.9" text-anchor="middle">2</text>
<text x="477" y="643.2" font-family="Liberation Sans, sans-serif" font-weight="bold" font-size="6" fill="#1c1c1c" stroke="#1c1c1c" stroke-width="0.9" text-anchor="middle">1</text>
<path d="M449.2,643.4L453.7,636.4L458.2,643.4Z" fill="#1c1c1c"/>
<rect x="424.5" y="647.3" width="58.7" height="24.7" fill="#fff" stroke="#1c1c1c" stroke-width="2.4"/>
<path d="M428.9,665V651.8H451.9V665" fill="none" stroke="#1c1c1c" stroke-width="1.3"/>
<path d="M433.5,665V658.4H447.09999999999997V665" fill="none" stroke="#1c1c1c" stroke-width="1.3"/>
<rect x="433.5" y="665" width="13.6" height="4.6" fill="#666"/>
<path d="M455.5,665V651.8H478.5V665" fill="none" stroke="#1c1c1c" stroke-width="1.3"/>
<path d="M460.1,665V658.4H473.7V665" fill="none" stroke="#1c1c1c" stroke-width="1.3"/>
<rect x="460.1" y="665" width="13.6" height="4.6" fill="#666"/>
<rect x="427.3" y="664.8" width="6.8" height="5" fill="#fff" stroke="#1c1c1c" stroke-width="1.2"/>
<rect x="447.4" y="664.8" width="6.4" height="5" fill="#fff" stroke="#1c1c1c" stroke-width="1.2"/>
<rect x="453.8" y="664.8" width="6.4" height="5" fill="#fff" stroke="#1c1c1c" stroke-width="1.2"/>
<rect x="474.3" y="664.8" width="6.2" height="5" fill="#fff" stroke="#1c1c1c" stroke-width="1.2"/>
<circle cx="439.6" cy="679.8" r="1.6" fill="none" stroke="#1c1c1c" stroke-width="1.2"/>
<circle cx="466.2" cy="679.8" r="1.6" fill="none" stroke="#1c1c1c" stroke-width="1.2"/>
<rect x="495.5" y="646.2" width="41.8" height="14.5" fill="#fff" stroke="#1c1c1c" stroke-width="1.6"/>
<rect x="506.8" y="647" width="18.6" height="13" fill="none" stroke="#1c1c1c" stroke-width="1.1"/>
<path d="M533.8,647V660" stroke="#1c1c1c" stroke-width="1"/>
<circle cx="511.4" cy="653.8" r="3.3" fill="#1c1c1c"/><circle cx="511.4" cy="653.8" r="1.5" fill="none" stroke="#999" stroke-width="0.7"/>
<circle cx="520.4" cy="653.8" r="3.3" fill="#1c1c1c"/><circle cx="520.4" cy="653.8" r="1.5" fill="none" stroke="#999" stroke-width="0.7"/>
<circle cx="502.0" cy="653.6" r="2" fill="none" stroke="#1c1c1c" stroke-width="1.1"/>
<circle cx="530.0" cy="653.6" r="2" fill="none" stroke="#1c1c1c" stroke-width="1.1"/>
<text x="516.4" y="668.2" font-family="Liberation Sans, sans-serif" font-weight="bold" font-size="5.4" fill="#1c1c1c" stroke="#1c1c1c" stroke-width="0.9" text-anchor="middle" textLength="20" lengthAdjust="spacingAndGlyphs">12V DC</text>
<text x="516.4" y="673.6" font-family="Liberation Sans, sans-serif" font-weight="bold" font-size="5.4" fill="#1c1c1c" stroke="#1c1c1c" stroke-width="0.9" text-anchor="middle" textLength="12" lengthAdjust="spacingAndGlyphs">OUT</text>
<polygon points="546.00,626.00 543.30,630.68 537.90,630.68 535.20,626.00 537.90,621.32 543.30,621.32" fill="none" stroke="#1c1c1c" stroke-width="1.2"/>
<circle cx="540.6" cy="626.0" r="2.4" fill="none" stroke="#1c1c1c" stroke-width="1.4"/>
<polygon points="593.60,626.00 590.90,630.68 585.50,630.68 582.80,626.00 585.50,621.32 590.90,621.32" fill="none" stroke="#1c1c1c" stroke-width="1.2"/>
<circle cx="588.2" cy="626.0" r="2.4" fill="none" stroke="#1c1c1c" stroke-width="1.4"/>
<path d="M551.20,615.20H578.00Q582.00,615.20 581.70,619.20L580.70,631.40Q580.40,635.40 576.40,635.40H552.80Q548.80,635.40 548.50,631.40L547.50,619.20Q547.20,615.20 551.20,615.20Z" fill="#fff" stroke="#1c1c1c" stroke-width="1.2"/>
<path d="M553.00,618.20H576.20Q579.40,618.20 579.10,621.40L578.50,629.20Q578.20,632.40 575.00,632.40H554.20Q551.00,632.40 550.70,629.20L550.10,621.40Q549.80,618.20 553.00,618.20Z" fill="#fff" stroke="#1c1c1c" stroke-width="2.0"/>
<circle cx="556.80" cy="622.80" r="1.45" fill="#1c1c1c"/>
<circle cx="562.00" cy="622.80" r="1.45" fill="#1c1c1c"/>
<circle cx="567.20" cy="622.80" r="1.45" fill="#1c1c1c"/>
<circle cx="572.40" cy="622.80" r="1.45" fill="#1c1c1c"/>
<circle cx="554.00" cy="628.20" r="1.45" fill="#1c1c1c"/>
<circle cx="559.30" cy="628.20" r="1.45" fill="#1c1c1c"/>
<circle cx="564.60" cy="628.20" r="1.45" fill="#1c1c1c"/>
<circle cx="569.90" cy="628.20" r="1.45" fill="#1c1c1c"/>
<circle cx="575.20" cy="628.20" r="1.45" fill="#1c1c1c"/>
<text x="563.8" y="641.8" font-family="Liberation Sans, sans-serif" font-weight="bold" font-size="5.2" fill="#1c1c1c" stroke="#1c1c1c" stroke-width="0.9" text-anchor="middle" textLength="32" lengthAdjust="spacingAndGlyphs">Optional I/O</text>
<path d="M560.60,650.40H555.10A3.9,3.9 0 0 0 555.10,658.20H563.60M598.60,650.40H604.10A3.9,3.9 0 0 1 604.10,658.20H595.60" fill="none" stroke="#1c1c1c" stroke-width="1.1"/>
<circle cx="555.20" cy="654.30" r="2.3" fill="none" stroke="#1c1c1c" stroke-width="1.4"/>
<circle cx="604.00" cy="654.30" r="2.3" fill="#fff" stroke="#1c1c1c" stroke-width="1.4"/>
<path d="M566.00,643.80H593.20Q597.20,643.80 596.90,647.80L598.10,661.00Q597.80,665.00 593.80,665.00H565.40Q561.40,665.00 561.10,661.00L562.30,647.80Q562.00,643.80 566.00,643.80Z" fill="#fff" stroke="#1c1c1c" stroke-width="1.2"/>
<path d="M567.80,646.80H591.40Q594.40,646.80 594.10,649.80L595.70,659.00Q595.40,662.00 592.40,662.00H566.80Q563.80,662.00 563.50,659.00L565.10,649.80Q564.80,646.80 567.80,646.80Z" fill="#fff" stroke="#1c1c1c" stroke-width="2.0"/>
<circle cx="571.80" cy="651.60" r="1.45" fill="#1c1c1c"/>
<circle cx="577.00" cy="651.60" r="1.45" fill="#1c1c1c"/>
<circle cx="582.20" cy="651.60" r="1.45" fill="#1c1c1c"/>
<circle cx="587.40" cy="651.60" r="1.45" fill="#1c1c1c"/>
<circle cx="569.20" cy="657.20" r="1.45" fill="#1c1c1c"/>
<circle cx="574.40" cy="657.20" r="1.45" fill="#1c1c1c"/>
<circle cx="579.60" cy="657.20" r="1.45" fill="#1c1c1c"/>
<circle cx="584.80" cy="657.20" r="1.45" fill="#1c1c1c"/>
<circle cx="590.00" cy="657.20" r="1.45" fill="#1c1c1c"/>
<text x="579.6" y="673.4" font-family="Liberation Sans, sans-serif" font-weight="bold" font-size="5.4" fill="#1c1c1c" stroke="#1c1c1c" stroke-width="0.9" text-anchor="middle" textLength="19" lengthAdjust="spacingAndGlyphs">COM 3</text>
<path d="M159.4,251V344.5" stroke="#17548f" stroke-width="2"/>
<circle cx="159.4" cy="251" r="3.6" fill="#17548f"/>
<path d="M204.8,284.7V378.5" stroke="#17548f" stroke-width="2"/>
<circle cx="204.8" cy="284.7" r="3.6" fill="#17548f"/>
<path d="M208,252.2H238.2V344.5" fill="none" stroke="#17548f" stroke-width="2"/>
<circle cx="208" cy="252.2" r="3.6" fill="#17548f"/>
<path d="M263.4,284.7V378.5" stroke="#17548f" stroke-width="2"/>
<circle cx="263.4" cy="284.7" r="3.6" fill="#17548f"/>
<path d="M241.4,230.7H369.3V266.8H241.4Z" fill="none" stroke="#17548f" stroke-width="2"/>
<path d="M313.4,266.8V290H386V266.8H369.3" fill="none" stroke="#17548f" stroke-width="2"/>
<path d="M300,266.8V344.5" stroke="#17548f" stroke-width="2"/>
<path d="M349.3,290V378.5" stroke="#17548f" stroke-width="2"/>
<path d="M393.8,256V344.5" stroke="#17548f" stroke-width="2"/>
<circle cx="393.8" cy="256.0" r="3.5" fill="#17548f"/>
<path d="M522.8,284.3V378.5" stroke="#17548f" stroke-width="2"/>
<circle cx="522.8" cy="284.3" r="3.6" fill="#17548f"/>
<path d="M169.3,636.7V727.3" stroke="#17548f" stroke-width="2"/>
<circle cx="169.3" cy="636.7" r="4" fill="#17548f"/>
<path d="M218.5,666V760.7" stroke="#17548f" stroke-width="2"/>
<circle cx="218.5" cy="666" r="4" fill="#17548f"/>
<path d="M400,659.3V727.3" stroke="#17548f" stroke-width="2"/>
<circle cx="400" cy="659.3" r="3.8" fill="#17548f"/>
<path d="M418.6,626.7V762.3" stroke="#17548f" stroke-width="2"/>
<circle cx="418.6" cy="626.7" r="3.8" fill="#17548f"/>
<path d="M454,660V727.3" stroke="#17548f" stroke-width="2"/>
<circle cx="454" cy="660" r="3.8" fill="#17548f"/>
<path d="M516.7,656V762.3" stroke="#17548f" stroke-width="2"/>
<circle cx="516.7" cy="656" r="3.8" fill="#17548f"/>
<path d="M553.2,630.7V727.3" stroke="#17548f" stroke-width="2"/>
<circle cx="553.2" cy="630.7" r="3.8" fill="#17548f"/>
<path d="M583.3,653.3H638.5V762.3" fill="none" stroke="#17548f" stroke-width="2"/>
<circle cx="583.3" cy="653.3" r="3.8" fill="#17548f"/>
</svg>
</body></html>
